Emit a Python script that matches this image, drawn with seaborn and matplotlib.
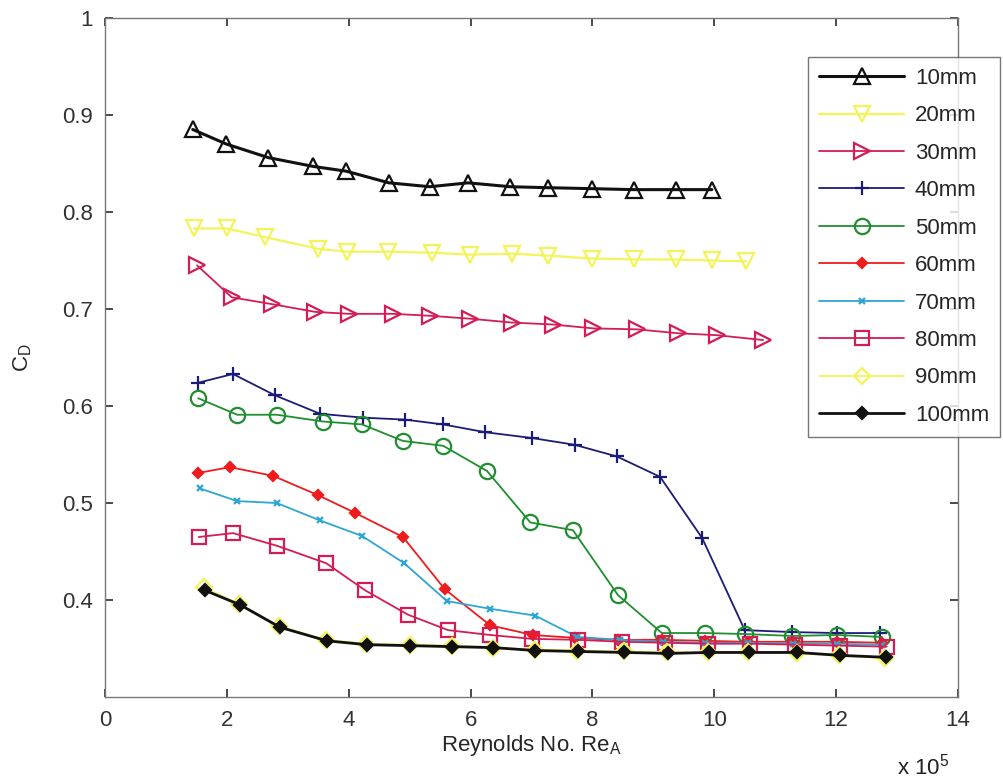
import numpy as np
import pandas as pd
import seaborn as sns
import matplotlib.pyplot as plt

# drag coefficient vs Reynolds number (x in units of 1e5)
labels = ["10mm", "20mm", "30mm", "40mm", "50mm", "60mm", "70mm", "80mm", "90mm", "100mm"]

x_10 = [1.44, 1.99, 2.68, 3.41, 3.96, 4.66, 5.33, 5.96, 6.65, 7.27, 7.99, 8.68, 9.37, 9.96]
cd_10 = [0.885, 0.870, 0.856, 0.847, 0.842, 0.830, 0.826, 0.830, 0.826, 0.825, 0.824, 0.823, 0.823, 0.823]

x_20 = [1.46, 2.00, 2.63, 3.50, 3.97, 4.64, 5.37, 5.99, 6.68, 7.27, 7.99, 8.68, 9.37, 9.96, 10.52]
cd_20 = [0.783, 0.783, 0.774, 0.762, 0.759, 0.759, 0.758, 0.756, 0.757, 0.755, 0.752, 0.751, 0.751, 0.750, 0.749]

x_30 = [1.51, 2.08, 2.74, 3.45, 4.00, 4.73, 5.33, 5.99, 6.68, 7.35, 8.01, 8.73, 9.40, 10.04, 10.80]
cd_30 = [0.745, 0.712, 0.705, 0.697, 0.695, 0.695, 0.693, 0.690, 0.686, 0.684, 0.680, 0.679, 0.675, 0.673, 0.668]

x_40 = [1.53, 2.10, 2.79, 3.53, 4.23, 4.92, 5.55, 6.24, 7.01, 7.71, 8.40, 9.11, 9.80, 10.50, 11.28, 12.01, 12.72]
cd_40 = [0.624, 0.633, 0.611, 0.592, 0.588, 0.586, 0.581, 0.573, 0.567, 0.560, 0.548, 0.527, 0.464, 0.369, 0.367, 0.366, 0.366]

x_50 = [1.53, 2.17, 2.82, 3.58, 4.22, 4.89, 5.55, 6.27, 6.98, 7.68, 8.42, 9.14, 9.85, 10.50, 11.28, 12.01, 12.75]
cd_50 = [0.608, 0.591, 0.591, 0.584, 0.581, 0.564, 0.559, 0.533, 0.480, 0.472, 0.405, 0.366, 0.366, 0.365, 0.363, 0.364, 0.362]

x_60 = [1.53, 2.05, 2.76, 3.50, 4.10, 4.89, 5.58, 6.32, 7.02, 7.71, 8.42, 9.14, 9.85, 10.55, 11.29, 12.01, 12.75]
cd_60 = [0.531, 0.537, 0.528, 0.508, 0.490, 0.465, 0.411, 0.374, 0.364, 0.361, 0.359, 0.359, 0.358, 0.357, 0.357, 0.357, 0.356]

x_70 = [1.56, 2.17, 2.82, 3.53, 4.22, 4.91, 5.61, 6.32, 7.06, 7.75, 8.45, 9.16, 9.85, 10.55, 11.29, 12.01, 12.75]
cd_70 = [0.515, 0.502, 0.500, 0.482, 0.466, 0.438, 0.399, 0.391, 0.384, 0.362, 0.359, 0.357, 0.356, 0.356, 0.355, 0.355, 0.354]

x_80 = [1.54, 2.10, 2.82, 3.63, 4.27, 4.97, 5.63, 6.32, 7.01, 7.76, 8.49, 9.19, 9.90, 10.59, 11.32, 12.06, 12.83]
cd_80 = [0.465, 0.469, 0.456, 0.438, 0.410, 0.385, 0.369, 0.364, 0.360, 0.359, 0.357, 0.356, 0.355, 0.355, 0.354, 0.353, 0.352]

x_90 = [1.62, 2.20, 2.86, 3.63, 4.29, 5.00, 5.69, 6.36, 7.05, 7.75, 8.51, 9.23, 9.90, 10.56, 11.35, 12.05, 12.80]
cd_90 = [0.413, 0.396, 0.373, 0.359, 0.355, 0.354, 0.353, 0.351, 0.349, 0.348, 0.347, 0.346, 0.346, 0.346, 0.345, 0.343, 0.340]

x_100 = [1.64, 2.22, 2.87, 3.64, 4.30, 5.01, 5.70, 6.37, 7.06, 7.76, 8.52, 9.24, 9.91, 10.57, 11.36, 12.06, 12.82]
cd_100 = [0.410, 0.395, 0.372, 0.358, 0.354, 0.353, 0.352, 0.351, 0.348, 0.347, 0.346, 0.345, 0.346, 0.346, 0.346, 0.343, 0.341]

xs = [x_10, x_20, x_30, x_40, x_50, x_60, x_70, x_80, x_90, x_100]
ys = [cd_10, cd_20, cd_30, cd_40, cd_50, cd_60, cd_70, cd_80, cd_90, cd_100]

colors = ["#111111", "#f3f35a", "#d41c55", "#1b1c78", "#1f8f2f",
          "#ee1c1c", "#2ea6d4", "#d41c55", "#f3f35a", "#111111"]
markers = ["^", "v", ">", "+", "o", "D", "x", "s", "D", "D"]
msizes = [12, 12, 12, 10, 11, 5, 5, 10, 8, 6]
lwidths = [2.2, 1.6, 1.3, 1.3, 1.3, 1.3, 1.3, 1.3, 1.3, 2.0]
filled = [False, False, False, True, False, True, True, False, False, True]

sns.set_theme(style="white")
plt.rcParams["font.family"] = ["Liberation Sans", "DejaVu Sans"]

fig = plt.figure(figsize=(10.04, 7.78), dpi=100)
ax = fig.add_axes([0.1046, 0.104, 0.8496, 0.873])

for i, lab in enumerate(labels):
    df = pd.DataFrame({"Re": xs[i], "CD": ys[i]})
    mfc = colors[i] if filled[i] else "none"
    sns.lineplot(data=df, x="Re", y="CD", ax=ax, sort=False, color=colors[i],
                 marker=markers[i], markersize=msizes[i], linewidth=lwidths[i],
                 markerfacecolor=mfc, markeredgecolor=colors[i],
                 markeredgewidth=1.6, label=lab, zorder=3 + (1 if i == 9 else 0))

fs = 16
ax.set_xlim(0, 14)
ax.set_ylim(0.3, 1.0)
ax.set_xticks(np.arange(0, 15, 2))
ax.set_yticks([0.4, 0.5, 0.6, 0.7, 0.8, 0.9, 1.0])
ax.set_yticklabels(["0.4", "0.5", "0.6", "0.7", "0.8", "0.9", "1"])
ax.tick_params(direction="in", length=6, labelsize=fs, colors="#333333",
               top=True, right=True, bottom=True, left=True, pad=9)
ax.tick_params(axis="x", labeltop=False)
ax.tick_params(axis="y", labelright=False)
for s in ax.spines.values():
    s.set_color("#777777")
    s.set_linewidth(1.0)

ax.set_xlabel("Reynolds No. Re$_\\mathregular{A}$", fontsize=fs, labelpad=2)
ax.set_ylabel("C$_\\mathregular{D}$", fontsize=fs, labelpad=20)
fig.text(0.893, 0.005, "x 10$^\\mathregular{5}$", fontsize=fs, color="#222222")

leg = ax.legend(loc="upper left", bbox_to_anchor=(0.805, 0.927),
                bbox_transform=fig.transFigure, fontsize=fs, frameon=True,
                fancybox=False, edgecolor="#555555", handlelength=3.8,
                handletextpad=0.5, labelspacing=0.74, borderpad=0.5,
                borderaxespad=0)
leg.get_frame().set_linewidth(1.0)
leg.set_zorder(10)

fig.savefig("out.png", dpi=100)
